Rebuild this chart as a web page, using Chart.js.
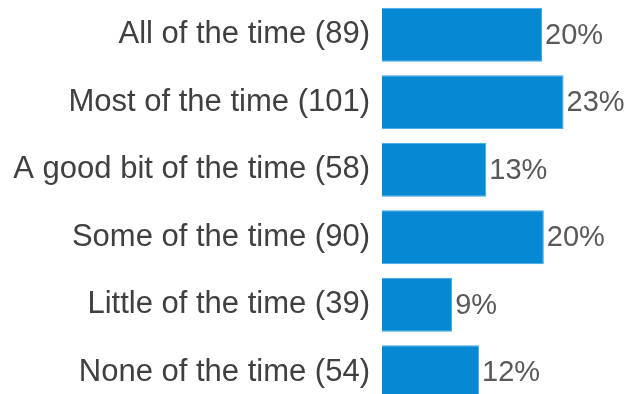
<!DOCTYPE html>
<html>
<head>
<meta charset="utf-8">
<script src="https://cdn.jsdelivr.net/npm/chart.js@4/dist/chart.umd.min.js"></script>
<style>
  html, body { margin: 0; padding: 0; background: #fff; overflow: hidden; }
  #wrap { width: 631px; height: 406px; }
</style>
</head>
<body>
<div id="wrap"><canvas id="barChart"></canvas></div>
<script>
var categories = ['All of the time (89)', 'Most of the time (101)', 'A good bit of the time (58)',
                  'Some of the time (90)', 'Little of the time (39)', 'None of the time (54)'];
var percentValues = [20.65, 23.43, 13.46, 20.88, 9.05, 12.53];
var percentLabels = ['20%', '23%', '13%', '20%', '9%', '12%'];

// draws the percent text just right of each bar
var barLabels = {
    id: 'barLabels',
    afterDatasetsDraw: function (chart) {
        var ctx = chart.ctx;
        var meta = chart.getDatasetMeta(0);
        ctx.save();
        ctx.font = '29px "Liberation Sans", Arial, sans-serif';
        ctx.fillStyle = '#595959';
        ctx.textAlign = 'left';
        ctx.textBaseline = 'middle';
        meta.data.forEach(function (bar, i) {
            ctx.fillText(percentLabels[i], bar.x + 3, bar.y + 1);
        });
        ctx.restore();
    }
};

var barCtx = document.getElementById('barChart').getContext('2d');
var barChart = new Chart(barCtx, {
    type: 'bar',
    data: {
        labels: categories,
        datasets: [{
            data: percentValues,
            backgroundColor: '#0788D3',
            borderColor: '#3DA6E6',
            borderWidth: 1,
            barPercentage: 0.8,
            categoryPercentage: 1
        }]
    },
    options: {
        indexAxis: 'y',
        responsive: true,
        maintainAspectRatio: false,
        animation: false,
        layout: { padding: { top: 1, right: 1, bottom: 0, left: 0 } },
        plugins: {
            legend: { display: false },
            tooltip: { enabled: false }
        },
        scales: {
            x: {
                display: false,
                min: 0,
                max: 32
            },
            y: {
                grid: { display: false, drawTicks: false },
                border: { display: false },
                ticks: {
                    color: '#404040',
                    padding: 12,
                    font: { family: '"Liberation Sans", Arial, sans-serif', size: 31 }
                },
                afterFit: function (scale) {
                    scale.width = 382;
                    scale.paddingTop = 0;
                    scale.paddingBottom = 0;
                }
            }
        }
    },
    plugins: [barLabels]
});
</script>
</body>
</html>
